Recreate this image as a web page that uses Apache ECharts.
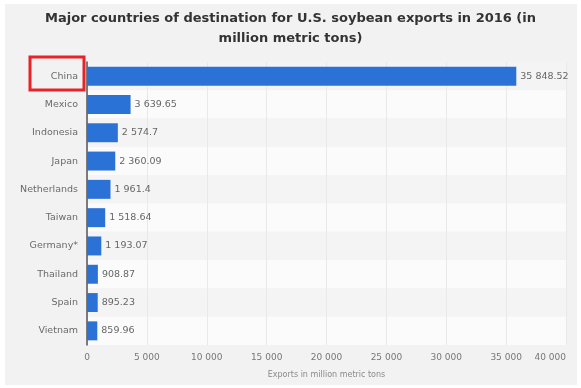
<!DOCTYPE html>
<html><head><meta charset="utf-8">
<script src="https://cdn.jsdelivr.net/npm/echarts@6/dist/echarts.min.js"></script>
<style>html,body{margin:0;padding:0;background:#fff}#c{width:581px;height:388px}</style>
</head><body><div id="c"></div>
<script>
const categories = ['China','Mexico','Indonesia','Japan','Netherlands','Taiwan','Germany*','Thailand','Spain','Vietnam'];
const values = [35848.52, 3639.65, 2574.7, 2360.09, 1961.4, 1518.64, 1193.07, 908.87, 895.23, 859.96];
const xTicks = [0,5000,10000,15000,20000,25000,30000,35000,40000];

function fmt(v){
  const s = String(v);
  const parts = s.split('.');
  const intp = parts[0].replace(/\B(?=(\d{3})+(?!\d))/g,' ');
  return parts.length>1 ? intp + '.' + parts[1] : intp;
}

const chart = echarts.init(document.getElementById('c'));
chart.setOption({
  backgroundColor: '#ffffff',
  animation: false,
  graphic: [
    {type:'rect', z:-10, shape:{x:5,y:4,width:572,height:381}, style:{fill:'#f2f2f2'}},
    {type:'rect', z:100, shape:{x:30,y:57,width:54,height:33}, style:{fill:'none', stroke:'#e5232a', lineWidth:3}}
  ],
  title: {
    text: 'Major countries of destination for U.S. soybean exports in 2016 (in\nmillion metric tons)',
    left: 'center', top: 4,
    textStyle: {fontFamily:'DejaVu Sans', fontSize:13, fontWeight:'bold', color:'#333', lineHeight:20}
  },
  grid: {left:87, right:15, top:62, bottom:43, containLabel:false},
  xAxis: {
    type:'value', min:0, max:40000, interval:5000,
    name:'Exports in million metric tons', nameLocation:'middle', nameGap:26,
    nameTextStyle:{fontFamily:'DejaVu Sans', fontSize:8, color:'#8a8a8a'},
    axisLine:{show:false}, axisTick:{show:false},
    axisLabel:{fontFamily:'DejaVu Sans', fontSize:9, color:'#777', margin:8, alignMaxLabel:'right', formatter:v=>fmt(v)},
    splitLine:{show:true, lineStyle:{color:'#e9e9e9', width:1}}
  },
  yAxis: {
    type:'category', data:categories, inverse:true,
    axisLine:{show:true, lineStyle:{color:'#555', width:1.5}},
    axisTick:{show:false},
    axisLabel:{fontFamily:'DejaVu Sans', fontSize:9.5, color:'#6a6a6a', margin:9},
    splitArea:{show:true, areaStyle:{color:['#f4f4f4','#fbfbfb']}}
  },
  series: [{
    type:'bar', data:values, barWidth:'67%',
    itemStyle:{color:'#2b72d7'},
    label:{show:true, position:'right', distance:4, fontFamily:'DejaVu Sans', fontSize:9.5, color:'#666', formatter:p=>fmt(p.value)}
  }]
});
</script></body></html>
